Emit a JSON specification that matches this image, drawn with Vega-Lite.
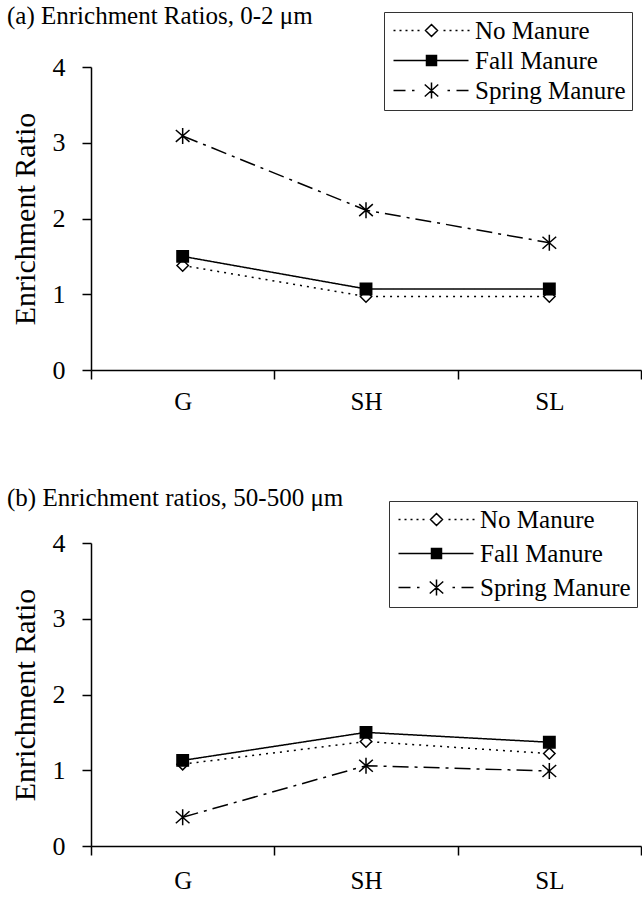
{
  "$schema": "https://vega.github.io/schema/vega-lite/v6.json",
  "padding": {"left": 7, "top": 3, "right": 0, "bottom": 0},
  "background": "white",
  "config": {
    "view": {"stroke": null},
    "font": "Liberation Serif",
    "axis": {
      "domainColor": "black", "domainWidth": 1.5, "tickColor": "black", "tickWidth": 1.5, "tickSize": 9,
      "labelFont": "Liberation Serif", "labelFontSize": 25, "labelColor": "black",
      "titleFont": "Liberation Serif", "titleFontSize": 30, "titleFontWeight": "normal", "titleColor": "black",
      "grid": false
    },
    "title": {"font": "Liberation Serif", "fontSize": 25, "fontWeight": "normal", "color": "black", "anchor": "start", "frame": "group"},
    "legend": {
      "labelFont": "Liberation Serif", "labelFontSize": 25, "labelColor": "black", "labelLimit": 400,
      "strokeColor": "#333", "padding": 6, "symbolSize": 100, "symbolOffset": 29, "labelOffset": 31,
      "rowPadding": 4, "symbolOpacity": 1, "symbolStrokeWidth": 1.5
    }
  },
  "spacing": 71,
  "resolve": {"legend": {"shape": "independent"}},
  "vconcat": [
    {
      "width": 550, "height": 303,
      "title": {"text": "(a) Enrichment Ratios, 0-2 μm", "dx": -84, "dy": 21},
      "data": {"values": [
        {"site": "G", "series": "No Manure", "value": 1.38},
        {"site": "SH", "series": "No Manure", "value": 0.97},
        {"site": "SL", "series": "No Manure", "value": 0.97},
        {"site": "G", "series": "Fall Manure", "value": 1.50},
        {"site": "SH", "series": "Fall Manure", "value": 1.07},
        {"site": "SL", "series": "Fall Manure", "value": 1.07},
        {"site": "G", "series": "Spring Manure", "value": 3.09},
        {"site": "SH", "series": "Spring Manure", "value": 2.11},
        {"site": "SL", "series": "Spring Manure", "value": 1.68}
      ]},
      "encoding": {
        "x": {"field": "site", "type": "nominal", "bandPosition": 0.5,
              "scale": {"type": "band", "domain": ["G", "SH", "SL"], "paddingInner": 0, "paddingOuter": 0},
              "axis": {"title": null, "labelAngle": 0, "tickBand": "extent", "labelPadding": 10}},
        "y": {"field": "value", "type": "quantitative",
              "scale": {"domain": [0, 4], "nice": false},
              "axis": {"title": "Enrichment Ratio", "values": [0, 1, 2, 3, 4], "labelPadding": 17, "titlePadding": 12, "labelFontSize": 26}}
      },
      "resolve": {"scale": {"shape": "independent"}},
      "layer": [
        {
          "mark": {"type": "line", "stroke": "black", "strokeWidth": 1.5},
          "encoding": {
            "strokeDash": {"field": "series", "type": "nominal",
              "scale": {"domain": ["No Manure", "Fall Manure", "Spring Manure"], "range": [[2, 5], [1, 0], [16, 6, 3, 6]]},
              "legend": null}
          }
        },
        {
          "mark": {"type": "point", "filled": true, "stroke": "black", "strokeWidth": 1.5, "opacity": 1, "size": 130},
          "encoding": {
            "fill": {"field": "series", "type": "nominal",
              "scale": {"domain": ["No Manure", "Fall Manure", "Spring Manure"], "range": ["white", "black", "transparent"]},
              "legend": null},
            "shape": {"field": "series", "type": "nominal",
              "scale": {"domain": ["No Manure", "Fall Manure", "Spring Manure"], "range": ["diamond", "square", "M0,-1.4V1.4M-1.2,-1.05L1.2,1.05M-1.2,1.05L1.2,-1.05"]},
              "legend": null}
          }
        },
        {
          "mark": {"type": "point", "filled": true, "fill": "white", "stroke": "black", "strokeWidth": 1.5, "size": 0},
          "encoding": {
            "shape": {"field": "series", "type": "nominal",
              "scale": {"domain": ["No Manure", "Fall Manure", "Spring Manure"], "range": [
                "M-7.6,0H-7.2M-6.4,0H-6M-5.2,0H-4.8M-4,0H-3.6M-2.8,0H-2.4M0,-1.2L1.2,0L0,1.2L-1.2,0ZM2.4,0H2.8M3.6,0H4M4.8,0H5.2M6,0H6.4M7.2,0H7.6",
                "M-7.6,0H-1M1,0H7.4M-1,-1H1V-0.7H-1V-0.4H1V-0.1H-1V0.2H1V0.5H-1V0.8H1V1H-1Z",
                "M-7.6,0H-5.2M-3.9,0H-3.4M0,-1.6V1.6M-1.35,-1.2L1.35,1.2M-1.35,1.2L1.35,-1.2M3.2,0H3.7M5,0H7.4"]},
              "legend": {"title": null, "orient": "none", "legendX": 293, "legendY": -55, "rowPadding": 4}}
          }
        }
      ]
    },
    {
      "width": 550, "height": 303,
      "title": {"text": "(b) Enrichment ratios, 50-500 μm", "dx": -84, "dy": 14},
      "data": {"values": [
        {"site": "G", "series": "No Manure", "value": 1.08},
        {"site": "SH", "series": "No Manure", "value": 1.38},
        {"site": "SL", "series": "No Manure", "value": 1.22},
        {"site": "G", "series": "Fall Manure", "value": 1.13},
        {"site": "SH", "series": "Fall Manure", "value": 1.50},
        {"site": "SL", "series": "Fall Manure", "value": 1.37},
        {"site": "G", "series": "Spring Manure", "value": 0.38},
        {"site": "SH", "series": "Spring Manure", "value": 1.06},
        {"site": "SL", "series": "Spring Manure", "value": 0.99}
      ]},
      "encoding": {
        "x": {"field": "site", "type": "nominal", "bandPosition": 0.5,
              "scale": {"type": "band", "domain": ["G", "SH", "SL"], "paddingInner": 0, "paddingOuter": 0},
              "axis": {"title": null, "labelAngle": 0, "tickBand": "extent", "labelPadding": 13}},
        "y": {"field": "value", "type": "quantitative",
              "scale": {"domain": [0, 4], "nice": false},
              "axis": {"title": "Enrichment Ratio", "values": [0, 1, 2, 3, 4], "labelPadding": 17, "titlePadding": 12, "labelFontSize": 26}}
      },
      "resolve": {"scale": {"shape": "independent"}},
      "layer": [
        {
          "mark": {"type": "line", "stroke": "black", "strokeWidth": 1.5},
          "encoding": {
            "strokeDash": {"field": "series", "type": "nominal",
              "scale": {"domain": ["No Manure", "Fall Manure", "Spring Manure"], "range": [[2, 5], [1, 0], [16, 6, 3, 6]]},
              "legend": null}
          }
        },
        {
          "mark": {"type": "point", "filled": true, "stroke": "black", "strokeWidth": 1.5, "opacity": 1, "size": 130},
          "encoding": {
            "fill": {"field": "series", "type": "nominal",
              "scale": {"domain": ["No Manure", "Fall Manure", "Spring Manure"], "range": ["white", "black", "transparent"]},
              "legend": null},
            "shape": {"field": "series", "type": "nominal",
              "scale": {"domain": ["No Manure", "Fall Manure", "Spring Manure"], "range": ["diamond", "square", "M0,-1.4V1.4M-1.2,-1.05L1.2,1.05M-1.2,1.05L1.2,-1.05"]},
              "legend": null}
          }
        },
        {
          "mark": {"type": "point", "filled": true, "fill": "white", "stroke": "black", "strokeWidth": 1.5, "size": 0},
          "encoding": {
            "shape": {"field": "series", "type": "nominal",
              "scale": {"domain": ["No Manure", "Fall Manure", "Spring Manure"], "range": [
                "M-7.6,0H-7.2M-6.4,0H-6M-5.2,0H-4.8M-4,0H-3.6M-2.8,0H-2.4M0,-1.2L1.2,0L0,1.2L-1.2,0ZM2.4,0H2.8M3.6,0H4M4.8,0H5.2M6,0H6.4M7.2,0H7.6",
                "M-7.6,0H-1M1,0H7.4M-1,-1H1V-0.7H-1V-0.4H1V-0.1H-1V0.2H1V0.5H-1V0.8H1V1H-1Z",
                "M-7.6,0H-5.2M-3.9,0H-3.4M0,-1.6V1.6M-1.35,-1.2L1.35,1.2M-1.35,1.2L1.35,-1.2M3.2,0H3.7M5,0H7.4"]},
              "legend": {"title": null, "orient": "none", "legendX": 298, "legendY": -42, "rowPadding": 8}}
          }
        }
      ]
    }
  ]
}
